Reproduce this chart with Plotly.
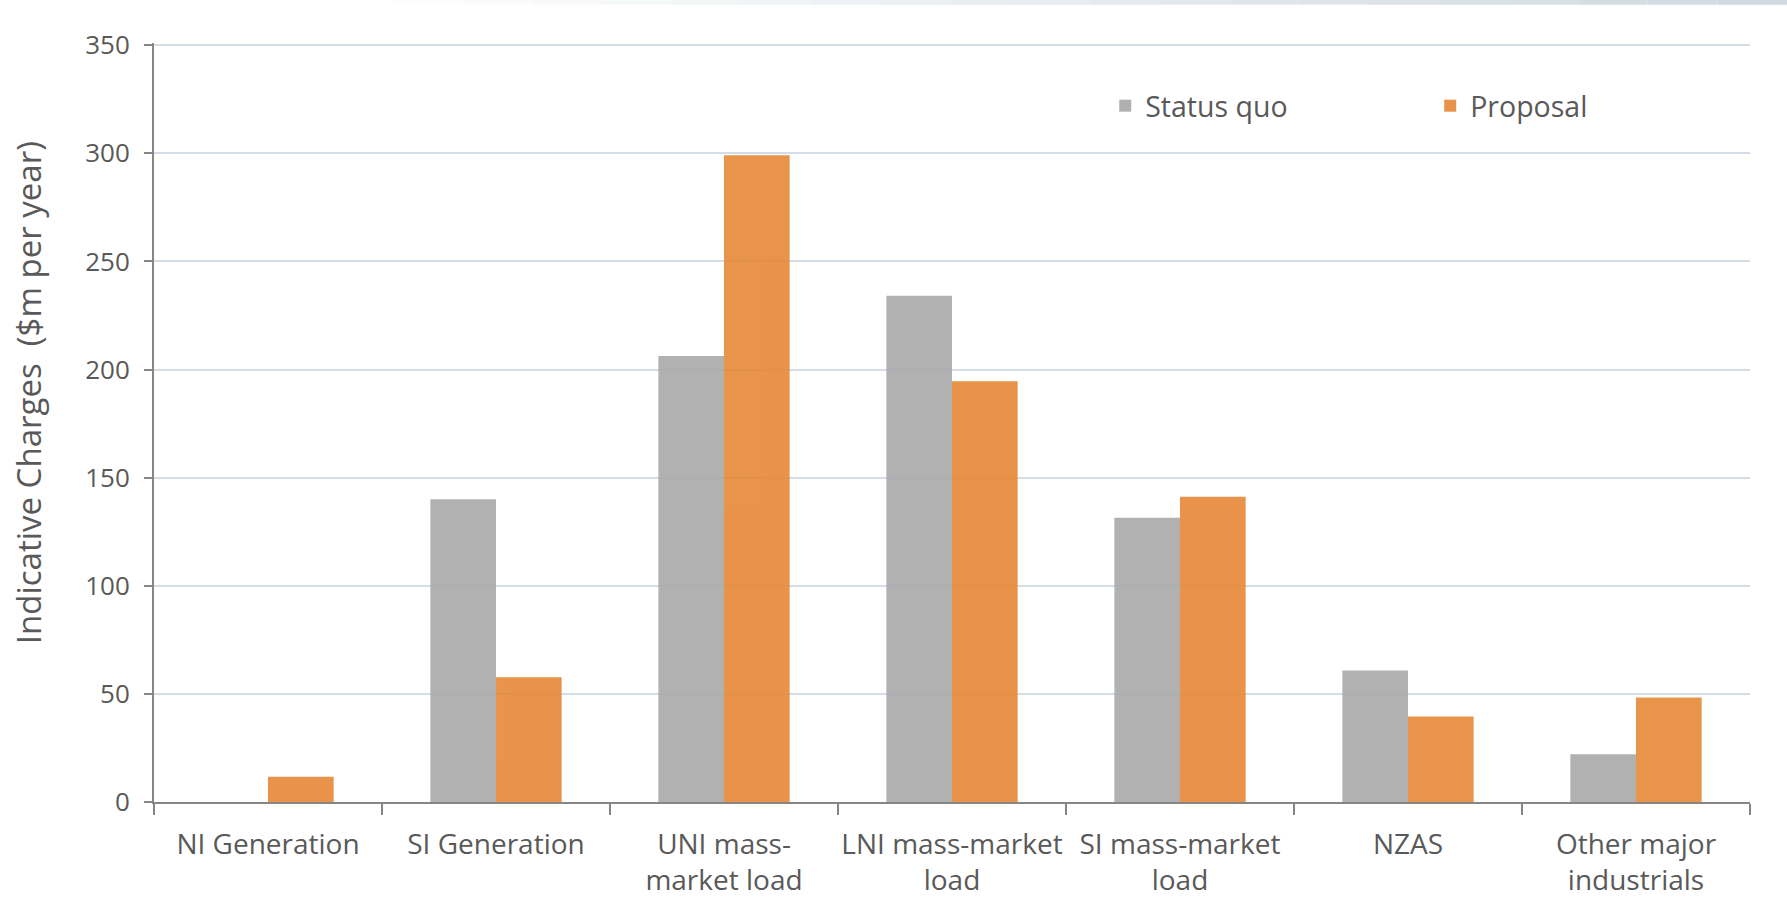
import plotly.graph_objects as go

categories = ["NI Generation", "SI Generation", "UNI mass-<br>market load",
              "LNI mass-market<br>load", "SI mass-market<br>load", "NZAS",
              "Other major<br>industrials"]
status_quo = [0, 140, 206.2, 234.1, 131.5, 60.8, 22.1]
proposal = [11.7, 57.7, 299.1, 194.6, 141.2, 39.5, 48.3]
y_ticks = [0, 50, 100, 150, 200, 250, 300, 350]
y_title = "Indicative Charges \u00a0($m per year)"

W, H = 1787, 899
Y_MAX = 351
ML, MR, MB = 154, 37, 96.7
MT = 45.5 - (Y_MAX - 350) * (756.8 / 350)
PW, PH = W - ML - MR, H - MT - MB
FONT = "Open Sans"
TXT = "#595959"

fig = go.Figure()
fig.add_trace(go.Bar(name="Status quo", x=categories, y=status_quo,
                     marker=dict(color="#A8A8A8", line=dict(width=0)), opacity=0.9))
fig.add_trace(go.Bar(name="Proposal", x=categories, y=proposal,
                     marker=dict(color="#E68836", line=dict(width=0)), opacity=0.9))

# faint gradient strip along the top edge (slide background)
shapes = []
n = 20
for i in range(n):
    x0 = 0.22 + i * (0.78 / n)
    x1 = x0 + 0.78 / n
    shapes.append(dict(type="rect", xref="paper", yref="paper",
                       x0=(x0 * W - ML) / PW, x1=(x1 * W - ML) / PW,
                       y0=1 + (MT - 5) / PH, y1=1 + MT / PH,
                       fillcolor="#C9D6DD", opacity=(i + 1) / n * 0.9,
                       line=dict(width=0), layer="below"))

fig.update_layout(
    width=W, height=H,
    margin=dict(l=ML, r=MR, t=MT, b=MB, pad=0, autoexpand=False),
    paper_bgcolor="white", plot_bgcolor="white",
    barmode="group", bargap=0.424, bargroupgap=0,
    font=dict(family=FONT, color=TXT, size=26),
    showlegend=True,
    legend=dict(orientation="h", x=0.596, xanchor="left", y=1 - (106.5 - MT) / PH,
                yanchor="middle",
                font=dict(family=FONT, size=28.5, color=TXT),
                entrywidth=280, bgcolor="rgba(0,0,0,0)", traceorder="normal"),
    shapes=shapes,
    annotations=[dict(text=y_title, textangle=-90, xref="paper", yref="paper",
                      x=(28.5 - ML) / PW, y=1 - (393 - MT) / PH,
                      xanchor="center", yanchor="middle", showarrow=False,
                      font=dict(size=33, family=FONT, color=TXT))],
)
fig.update_xaxes(type="category", tickson="boundaries", ticks="outside", ticklen=11,
                 tickwidth=2, tickcolor="#868686", showline=True, linecolor="#868686",
                 linewidth=2, showgrid=False, ticklabelstandoff=16, tickangle=0,
                 automargin=False,
                 tickfont=dict(size=28, family=FONT, color=TXT))
fig.update_yaxes(range=[0, Y_MAX], tickvals=y_ticks, ticks="outside", ticklen=8,
                 tickwidth=2, tickcolor="#868686", showline=True, linecolor="#868686",
                 linewidth=2, showgrid=True, gridcolor="#D3DCE8", gridwidth=2,
                 zeroline=False, ticklabelstandoff=9, automargin=False,
                 tickfont=dict(size=26, family=FONT, color=TXT))

fig.write_html("out.html")
